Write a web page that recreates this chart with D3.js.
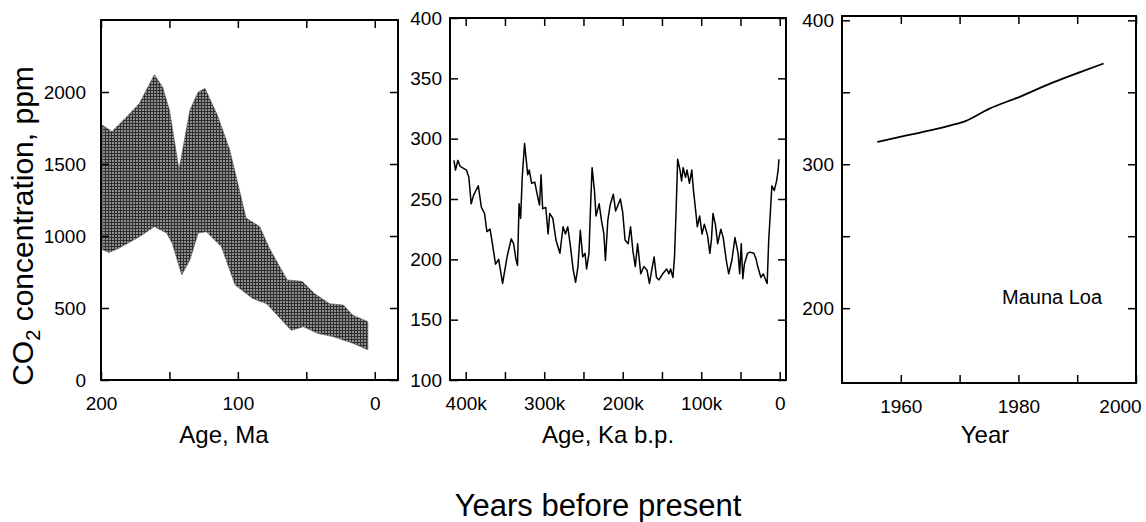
<!DOCTYPE html>
<html>
<head>
<meta charset="utf-8">
<script src="https://cdn.jsdelivr.net/npm/d3@7"></script>
<style>
body { margin: 0; background: #fff; }
svg text { font-family: "Liberation Sans", Arial, Helvetica, sans-serif; fill: #000; }
</style>
</head>
<body>
<svg id="chart" width="1146" height="522"></svg>
<script>
// panel 1 : geological band (age in Ma, CO2 ppm), upper and lower edge
var bandUpperAge = [199, 192, 181, 172, 161, 155, 150, 143, 135, 129, 124, 115, 106, 94, 84, 77, 64, 53, 44, 33, 23, 16, 5];
var bandUpperPpm = [1770, 1725, 1830, 1920, 2120, 2035, 1875, 1460, 1875, 2000, 2025, 1840, 1600, 1125, 1065, 915, 695, 685, 600, 530, 520, 450, 405];
var bandLowerAge = [199, 194, 187, 172, 161, 152, 148, 141, 135, 129, 123, 112, 102, 89, 79, 61, 52, 42, 30, 16, 5];
var bandLowerPpm = [905, 885, 915, 995, 1065, 1020, 950, 730, 835, 1020, 1030, 925, 660, 565, 530, 345, 370, 325, 300, 255, 210];

// panel 2 : ice core (age in thousand years b.p., CO2 ppm)
var iceAge = [415, 413, 410, 407, 399, 396, 393, 390, 384, 380,
	376, 373, 369, 366, 362, 358, 353, 347, 342, 339,
	336, 334, 332, 330, 328, 325, 323, 321, 319, 316,
	312, 309, 306, 304, 302, 298, 295, 293, 289, 285,
	280, 276, 273, 270, 267, 263, 260, 257, 254, 251,
	248, 246, 243, 241, 239, 236, 234, 230, 227, 224,
	222, 219, 216, 212, 209, 206, 203, 200, 197, 193,
	190, 187, 184, 181, 177, 173, 169, 166, 163, 160,
	157, 154, 149, 144, 141, 139, 136, 134, 132, 130,
	127, 125, 123, 120, 118, 115, 112, 110, 107, 105,
	102, 99, 96, 92, 89, 87, 85, 82, 79, 75,
	72, 68, 65, 61, 57, 53, 51, 49, 47, 45,
	41, 38, 33, 30, 28, 24, 21, 18, 16, 14,
	12, 10, 7, 4, 2, 1];
var icePpm = [282, 274, 282, 277, 274, 268, 246, 253, 261, 243,
	238, 223, 225, 213, 196, 200, 180, 203, 217, 213,
	200, 195, 246, 234, 268, 296, 283, 270, 274, 263,
	264, 254, 245, 270, 242, 243, 221, 238, 234, 216,
	205, 227, 221, 227, 213, 191, 181, 194, 224, 202,
	205, 192, 205, 243, 276, 257, 236, 246, 232, 221,
	199, 232, 245, 254, 240, 245, 250, 239, 216, 213,
	227, 207, 194, 213, 188, 194, 191, 180, 191, 202,
	185, 183, 188, 192, 188, 192, 185, 202, 240, 283,
	274, 265, 276, 268, 274, 263, 274, 258, 240, 227,
	236, 221, 229, 220, 205, 216, 238, 229, 213, 225,
	218, 199, 188, 199, 218, 205, 188, 213, 184, 196,
	205, 206, 205, 200, 194, 185, 188, 183, 180, 216,
	238, 261, 257, 265, 274, 283];

// panel 3 : Mauna Loa
var mlYear = [1956, 1961, 1965, 1968.5, 1971, 1975, 1980, 1986, 1990.5, 1994.5];
var mlPpm = [315.5, 320, 323.5, 327, 330, 338.5, 346.5, 357, 364, 370];

// ticks and tick labels
var maTicks = [200, 150, 100, 50, 0];
var maTickLabels = ["200", "", "100", "", "0"];
var bandYTicks = [0, 500, 1000, 1500, 2000];
var kaTicks = [400, 350, 300, 250, 200, 150, 100, 50, 0];
var kaTickLabels = ["400k", "", "300k", "", "200k", "", "100k", "", "0"];
var iceYTicks = [100, 150, 200, 250, 300, 350, 400];
var yrTicks = [1960, 1970, 1980, 1990, 2000];
var yrTickLabels = ["1960", "", "1980", "", "2000"];
var mlYTicks = [200, 250, 300, 350, 400];
var mlYTickLabels = ["200", "", "300", "", "400"];

var svg = d3.select("#chart");

// crosshatch fill like the printed band
var pat = svg.append("defs").append("pattern")
	.attr("id", "hatch")
	.attr("patternUnits", "userSpaceOnUse")
	.attr("width", 3)
	.attr("height", 3);
pat.append("rect").attr("width", 3).attr("height", 3).attr("fill", "#8e8e8e");
pat.append("path").attr("d", "M0,0.5H3M0.5,0V3").attr("stroke", "#2e2e2e").attr("stroke-width", 1);

var xMa = d3.scaleLinear().domain([200, -17]).range([101, 398]),
	yMa = d3.scaleLinear().domain([0, 2500]).range([380, 20]),
	xKa = d3.scaleLinear().domain([420, -8]).range([450, 786]),
	yKa = d3.scaleLinear().domain([100, 400]).range([380, 18]),
	xYr = d3.scaleLinear().domain([1950, 2000]).range([842, 1136]),
	yYr = d3.scaleLinear().domain([148, 403]).range([383, 16]);

function labelOf(ticks, labels) {
	return function (d) { var i = ticks.indexOf(d); return i < 0 ? "" : labels[i]; };
}

function panel(x, y, xt, xlab, yt, ylab, ypad) {
	var g = svg.append("g");
	var xr = x.range(), yr = y.range();

	var bottom = g.append("g").attr("transform", "translate(0," + yr[0] + ")")
		.call(d3.axisBottom(x).tickValues(xt).tickSize(-8).tickSizeOuter(0).tickPadding(17)
			.tickFormat(labelOf(xt, xlab)));
	g.append("g").attr("transform", "translate(0," + yr[1] + ")")
		.call(d3.axisTop(x).tickValues(xt).tickSize(-8).tickSizeOuter(0).tickFormat(""));
	g.append("g").attr("transform", "translate(" + xr[0] + ",0)")
		.call(d3.axisLeft(y).tickValues(yt).tickSize(-8).tickSizeOuter(0).tickPadding(ypad)
			.tickFormat(labelOf(yt, ylab)));
	g.append("g").attr("transform", "translate(" + xr[1] + ",0)")
		.call(d3.axisRight(y).tickValues(yt).tickSize(-8).tickSizeOuter(0).tickFormat(""));

	g.selectAll(".domain").remove();
	g.selectAll(".tick line").attr("stroke", "#000").attr("stroke-width", 1.5);
	g.selectAll(".tick text").style("font-size", "19px").attr("fill", "#000");

	g.append("rect")
		.attr("x", xr[0]).attr("y", yr[1])
		.attr("width", xr[1] - xr[0]).attr("height", yr[0] - yr[1])
		.attr("fill", "none").attr("stroke", "#000").attr("stroke-width", 2);
	return { g: g, bottom: bottom };
}

// panel 1
var upper = bandUpperAge.map(function (d, i) { return [xMa(d), yMa(bandUpperPpm[i])]; });
var lower = bandLowerAge.map(function (d, i) { return [xMa(d), yMa(bandLowerPpm[i])]; }).reverse();
svg.append("path")
	.attr("d", d3.line()(upper.concat(lower)) + "Z")
	.attr("fill", "url(#hatch)")
	.attr("stroke", "#555")
	.attr("stroke-width", 0.6);
panel(xMa, yMa, maTicks, maTickLabels, bandYTicks, bandYTicks.map(String), 15);

// panel 2
svg.append("path")
	.datum(iceAge.map(function (d, i) { return [d, icePpm[i]]; }))
	.attr("d", d3.line().x(function (d) { return xKa(d[0]); }).y(function (d) { return yKa(d[1]); }))
	.attr("fill", "none")
	.attr("stroke", "#000")
	.attr("stroke-width", 1.5)
	.attr("stroke-linejoin", "round");
panel(xKa, yKa, kaTicks, kaTickLabels, iceYTicks, iceYTicks.map(String), 8);

// panel 3
svg.append("path")
	.datum(mlYear.map(function (d, i) { return [d, mlPpm[i]]; }))
	.attr("d", d3.line().curve(d3.curveMonotoneX).x(function (d) { return xYr(d[0]); }).y(function (d) { return yYr(d[1]); }))
	.attr("fill", "none")
	.attr("stroke", "#000")
	.attr("stroke-width", 1.8);
var p3 = panel(xYr, yYr, yrTicks, yrTickLabels, mlYTicks, mlYTickLabels, 8);
// last year label sits inside the page edge
p3.bottom.selectAll(".tick text").filter(function (d) { return d === 2000; }).attr("dx", -16);

svg.append("text")
	.attr("x", 1002).attr("y", 304)
	.style("font-size", "20px")
	.text("Mauna Loa");

// axis titles
svg.append("text").attr("x", 224).attr("y", 443).attr("text-anchor", "middle").style("font-size", "24px").text("Age, Ma");
svg.append("text").attr("x", 608).attr("y", 443).attr("text-anchor", "middle").style("font-size", "24px").text("Age, Ka b.p.");
svg.append("text").attr("x", 985).attr("y", 443).attr("text-anchor", "middle").style("font-size", "24px").text("Year");

var yt = svg.append("text")
	.attr("transform", "translate(33,226) rotate(-90)")
	.attr("text-anchor", "middle")
	.style("font-size", "30px");
yt.append("tspan").text("CO");
yt.append("tspan").attr("dy", 7).style("font-size", "20px").text("2");
yt.append("tspan").attr("dy", -7).text(" concentration, ppm");

svg.append("text")
	.attr("x", 598).attr("y", 516)
	.attr("text-anchor", "middle")
	.style("font-size", "31px")
	.text("Years before present");
</script>
</body>
</html>
